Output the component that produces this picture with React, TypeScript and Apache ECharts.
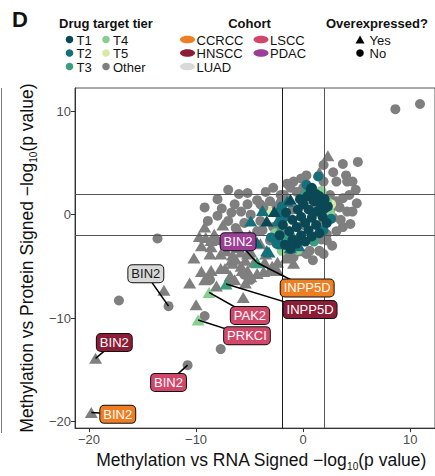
import React, { useEffect, useRef } from "react";
import * as echarts from "echarts";

const FONT = "'Liberation Sans', Arial, Helvetica, sans-serif";

// Drug target tiers and their colours
const tierNames = ["T1", "T2", "T3", "T4", "T5", "Other"];
const tierColors = ["#0b4856", "#15707b", "#3a9d80", "#86cf91", "#d8eba6", "#7f7f7f"];

// Cohorts (label fills)
const cohortNames = ["CCRCC", "HNSCC", "LUAD", "LSCC", "PDAC"];
const cohortColors = ["#ef7d22", "#8b1d36", "#d9d9d9", "#d1476a", "#9b3e98"];

const xTicks = [-20, -10, 0, 10];
const yTicks = [-20, -10, 0, 10];
const cutoffs = [-2, 2];

// Other tier, not overexpressed (circles)
const otherNo: number[][] = [
  [8.6, 10.2], [10.9, 10.7],
  [3.7, 4.9], [5.1, 5.1], [4.0, 3.8], [4.1, 3.2], [4.9, 2.4], [4.1, 0.3], [1.7, -2.4], [1.9, 4.8], [2.8, 4.1], [3.1, 3.2],
  [0.3, 3.8], [1.9, 3.2], [4.6, 3.2], [3.1, 1.3], [4.3, 1.9], [4.6, 0.3], [3.7, -1.2], [2.2, -1.9], [0.6, -3.5], [-0.9, -4.1], [1.9, -3.8],
  [-0.9, 3.2], [0.0, 2.6], [-1.8, 1.9], [-3.1, 1.3], [-4.0, 1.0], [-5.2, 1.0], [-6.4, 1.0], [-7.0, 2.4],
  [-5.2, 2.1], [-4.3, 1.4], [-6.7, 0.2], [-4.9, 0.0], [-3.7, 0.7], [-9.2, 0.7], [-8.0, -0.1], [-8.9, -0.6], [-4.0, -0.6],
  [-4.3, -1.6], [-3.1, -2.5], [-1.5, -3.8], [0.3, -3.8], [1.5, -3.5], [2.2, -2.5], [3.1, -1.6], [2.8, -0.3], [3.4, 0.7],
  [3.7, 1.6], [2.5, 1.9], [0.9, 2.4], [-0.6, 2.2], [-2.1, 1.9],
  [1.0, 0.5], [2.0, 0.0], [1.5, -1.0], [0.5, 1.5], [-1.0, 0.5], [-2.0, -0.5], [-2.5, 0.8], [-1.5, -1.5], [0.0, -1.0],
  [3.5, -0.5], [2.6, 0.6], [1.2, 1.8], [-0.3, -2.5], [-2.8, -1.2], [-7.0, -0.6],
  [-8.0, 1.5], [-6.0, 2.0], [-5.8, 0.3], [-7.6, 0.6], [-3.5, 2.2], [-2.8, 2.6], [-1.5, 3.0], [-0.2, 3.5], [-2.2, 0.0],
  [-5.5, -0.8], [-6.3, -1.3], [-3.8, -1.5], [0.9, -4.4], [2.7, -3.0], [4.4, -0.9], [5.0, 1.1], [-1.2, 2.6],
  [-13.6, -2.3], [-17.2, -8.3], [-8.7, -6.3], [-9.2, -9.8], [-7.7, -13.0], [-6.9, -6.5], [-4.9, -6.3], [-5.5, -5.8],
];

// Other tier, overexpressed (triangles)
const otherYes: number[][] = [
  [2.3, 5.7], [1.5, 4.1], [0.6, 2.6], [-2.1, 1.6],
  [-9.2, -1.2], [-8.6, -2.5], [-8.0, -2.4], [-9.5, -3.0], [-8.7, -3.8], [-7.7, -3.8], [-6.6, -3.9], [-5.8, -3.6],
  [-5.2, -3.8], [-6.6, -4.7], [-8.6, -5.4], [-7.3, -5.2], [-5.8, -5.0], [-5.2, -5.4], [-9.2, -6.3], [-8.1, -6.9],
  [-6.4, -6.3], [-5.4, -6.6], [-4.9, -6.0], [-3.7, -5.5], [-2.9, -5.0], [-2.4, -4.6], [-0.9, -4.7], [-0.6, -3.5],
  [-9.7, -2.1], [-9.1, -2.2], [-8.3, -2.0], [-7.2, -3.5], [-6.7, -4.4], [-9.5, -5.5], [-10.6, -6.6], [-7.7, -5.2],
  [-5.7, -5.4], [-5.4, -4.4], [-4.9, -3.6], [-6.1, -3.2], [-6.3, -4.3], [-10.0, -8.7], [-13.0, -7.3],
  [-5.6, -8.0], [-4.3, -5.7], [-3.1, -5.4], [-2.4, -5.4], [-8.3, -1.9], [-8.6, -3.1],
  [-7.5, -1.0], [-6.0, -1.5], [-5.0, -2.0], [-4.0, -2.8], [-3.5, -3.8], [-1.8, -3.0], [-2.0, -2.0],
  [-7.0, -2.6], [-4.6, -4.6], [-3.6, -4.6], [-1.6, -4.2], [-10.2, -4.2], [-6.8, -5.9],
];

const t5No: number[][] = [[-2.4, -2.5], [1.0, 1.5], [-1.8, -1.0], [2.6, 1.0]];
const t5Yes: number[][] = [[-3.1, 0.3]];
const t4No: number[][] = [[2.2, 1.3], [0.0, -2.5], [2.5, 0.2], [-1.3, -3.0], [-2.6, -1.8], [1.7, 2.3], [-0.5, -3.4], [-2.0, -3.5]];
const t4Yes: number[][] = [];
const t3No: number[][] = [[-1.5, -2.2], [1.0, -2.6], [0.2, 2.0]];
const t3Yes: number[][] = [[-2.2, -1.5], [-1.0, -2.0]];
const t2No: number[][] = [[1.4, 3.7], [-2.5, -2.8], [-3.0, -2.2], [-1.8, -0.3], [2.6, -0.4], [0.3, 2.9], [-2.0, 0.8], [1.9, -1.5]];
const t2Yes: number[][] = [
  [-4.9, -0.6], [-2.4, 0.3], [-1.5, 1.3], [-3.2, -3.6], [-4.3, -2.7], [-2.0, -2.8], [-1.2, -3.2], [-3.8, 0.4], [-0.4, -3.0],
  [-3.4, -3.5], [-2.4, -0.6],
];
const t1No: number[][] = [
  [0.8, 2.6], [0.7, 2.4], [1.2, 2.0], [0.4, 1.8], [1.0, 1.3], [0.0, 1.0], [1.6, 1.0], [-0.5, 0.5], [0.5, 0.5], [1.3, 0.3],
  [2.0, 0.6], [-0.2, -0.2], [0.8, -0.3], [1.8, -0.2], [-1.0, -0.5], [0.2, -0.8], [1.2, -1.0], [-0.6, -1.2], [0.5, -1.5],
  [-1.3, -1.6], [-0.2, -2.0], [0.8, -2.1], [-1.0, -2.4], [-1.7, -2.9], [-0.6, -2.8], [0.2, -2.6], [-1.2, -3.3], [1.5, -1.8],
  [2.2, -0.8], [2.3, 0.8], [-0.3, 1.5], [1.5, 1.8], [-1.6, 0.2], [-1.9, -1.0], [2.0, 1.5], [-2.2, -2.0],
];
const t1Yes: number[][] = [[-3.4, -0.6], [-2.7, 0.3], [-1.2, 1.5]];

// Labelled genes: point, tier, shape, label position and cohort
const labelGenes = ["BIN2", "INPP5D", "INPP5D", "PAK2", "PRKCI", "BIN2", "BIN2", "BIN2", "BIN2"];
const labelCohorts = ["PDAC", "CCRCC", "HNSCC", "LSCC", "LSCC", "LUAD", "HNSCC", "LSCC", "CCRCC"];
const labelTiers = ["T3", "T3", "T3", "T4", "T4", "Other", "Other", "Other", "Other"];
const labelOverexpressed = [true, true, true, true, true, false, true, false, true];
const labelPointX = [-4.33, -4.3, -7.2, -8.79, -9.81, -12.57, -19.38, -10.79, -19.78];
const labelPointY = [-4.62, -4.65, -6.71, -7.52, -10.18, -8.85, -13.89, -14.55, -19.14];
const labelBoxX = [-6.08, 0.37, 0.64, -4.97, -5.25, -14.69, -17.63, -12.57, -17.31];
const labelBoxY = [-2.62, -7.09, -9.18, -9.75, -11.7, -5.71, -12.37, -16.22, -19.31];

const tierData: Record<string, { no: number[][]; yes: number[][] }> = {
  T1: { no: t1No, yes: t1Yes },
  T2: { no: t2No, yes: t2Yes },
  T3: { no: t3No, yes: t3Yes },
  T4: { no: t4No, yes: t4Yes },
  T5: { no: t5No, yes: t5Yes },
  Other: { no: otherNo, yes: otherYes },
};

const minus = (v: number) => String(v).replace("-", "\u2212");

function buildOption(): echarts.EChartsOption {
  const series: any[] = [];
  const drawOrder = ["Other", "T5", "T4", "T3", "T2", "T1"];
  drawOrder.forEach((tier, k) => {
    const color = tierColors[tierNames.indexOf(tier)];
    const no = tierData[tier].no.slice();
    const yes = tierData[tier].yes.slice();
    labelGenes.forEach((_, i) => {
      if (labelTiers[i] !== tier) return;
      (labelOverexpressed[i] ? yes : no).push([labelPointX[i], labelPointY[i]]);
    });
    series.push({
      type: "scatter",
      name: tier + " No",
      data: no,
      symbol: "circle",
      symbolSize: 10,
      itemStyle: { color, opacity: 1 },
      z: 2 + k,
      silent: true,
    });
    series.push({
      type: "scatter",
      name: tier + " Yes",
      data: yes,
      symbol: "triangle",
      symbolSize: [13, 11],
      itemStyle: { color, opacity: 1 },
      z: 2 + k,
      silent: true,
    });
  });

  // significance cut-offs
  series.push({
    type: "scatter",
    data: [],
    z: 10,
    silent: true,
    markLine: {
      silent: true,
      symbol: "none",
      label: { show: false },
      data: [
        { xAxis: cutoffs[0], lineStyle: { color: "#1a1a1a", width: 1, type: "solid" } },
        { xAxis: cutoffs[1], lineStyle: { color: "#555555", width: 1, type: "solid" } },
        { yAxis: cutoffs[0], lineStyle: { color: "#555555", width: 1, type: "solid" } },
        { yAxis: cutoffs[1], lineStyle: { color: "#555555", width: 1, type: "solid" } },
      ],
    },
  });

  // connectors from labelled points to their labels
  series.push({
    type: "lines",
    coordinateSystem: "cartesian2d",
    z: 12,
    silent: true,
    lineStyle: { color: "#000", width: 1.5, opacity: 1 },
    data: labelGenes.map((_, i) => ({
      coords: [
        [labelPointX[i], labelPointY[i]],
        [labelBoxX[i], labelBoxY[i]],
      ],
    })),
  });

  // gene labels as boxed text
  series.push({
    type: "custom",
    z: 20,
    silent: true,
    data: labelGenes.map((_, i) => [labelBoxX[i], labelBoxY[i]]),
    renderItem: (params: any, api: any) => {
      const i = params.dataIndex;
      const c = cohortNames.indexOf(labelCohorts[i]);
      const p = api.coord([api.value(0), api.value(1)]);
      return {
        type: "text",
        x: p[0],
        y: p[1],
        style: {
          text: labelGenes[i],
          fontFamily: FONT,
          fontSize: 13,
          lineHeight: 14,
          fill: labelCohorts[i] === "LUAD" ? "#1a1a1a" : "#ffffff",
          backgroundColor: cohortColors[c],
          borderColor: "#111",
          borderWidth: 1,
          borderRadius: 4,
          padding: [2, 3, 1, 3],
          align: "center",
          verticalAlign: "middle",
        },
      };
    },
  });

  const nameRich = {
    n: { fontFamily: FONT, fontSize: 17.5, lineHeight: 22, color: "#111" },
    s: { fontFamily: FONT, fontSize: 10, lineHeight: 8, verticalAlign: "bottom", color: "#111" },
  };

  // legend
  const legendText = (x: number, y: number, text: string, extra: any = {}) => ({
    type: "text",
    x,
    y,
    style: {
      text,
      fontFamily: FONT,
      fontSize: 13,
      fill: "#111",
      verticalAlign: "middle",
      align: "left",
      ...extra,
    },
  });
  const rows = [39.5, 53, 66.5];
  const graphics: any[] = [
    legendText(12, 19.5, "D", { fontSize: 22, fontWeight: "bold" }),
    legendText(59, 23, "Drug target tier", { fontWeight: "bold" }),
    legendText(249.5, 23, "Cohort", { fontWeight: "bold", align: "center" }),
    legendText(326, 23, "Overexpressed?", { fontWeight: "bold" }),
  ];
  tierNames.forEach((t, i) => {
    const col = i < 3 ? 0 : 1;
    const row = i % 3;
    const dx = col === 0 ? 69.5 : 106;
    graphics.push({
      type: "circle",
      shape: { cx: dx, cy: rows[row], r: 3.8 },
      style: { fill: tierColors[i] },
    });
    graphics.push(legendText(dx + 7, rows[row] + 0.5, t));
  });
  const cohortOrder = ["CCRCC", "HNSCC", "LUAD", "LSCC", "PDAC"];
  cohortOrder.forEach((c, i) => {
    const col = i < 3 ? 0 : 1;
    const row = i % 3;
    const cx = col === 0 ? 187.5 : 261;
    graphics.push({
      type: "ellipse",
      shape: { cx, cy: rows[row], rx: 7.5, ry: 3.8 },
      style: { fill: cohortColors[cohortNames.indexOf(c)] },
    });
    graphics.push(legendText(cx + 9, rows[row] + 0.5, c));
  });
  graphics.push({
    type: "polygon",
    shape: { points: [[355.5, 43.5], [364.5, 43.5], [360, 35.5]] },
    style: { fill: "#000" },
  });
  graphics.push(legendText(369.5, rows[0] + 0.5, "Yes"));
  graphics.push({ type: "circle", shape: { cx: 360, cy: rows[1], r: 3.8 }, style: { fill: "#000" } });
  graphics.push(legendText(369.5, rows[1] + 0.5, "No"));
  // edge of the neighbouring panel
  graphics.push({
    type: "line",
    shape: { x1: 1.5, y1: 88, x2: 1.5, y2: 433 },
    style: { stroke: "#7a7a7a", lineWidth: 1 },
  });

  return {
    animation: false,
    backgroundColor: "#ffffff",
    textStyle: { fontFamily: FONT },
    grid: {
      left: 75,
      top: 88,
      right: -5,
      bottom: 42,
      show: true,
      borderColor: "#555555",
      borderWidth: 1,
      backgroundColor: "transparent",
    },
    xAxis: {
      type: "value",
      min: -21.3,
      max: 12.3,
      splitLine: { show: false },
      axisLine: { show: true, onZero: false, lineStyle: { color: "#333", width: 1 } },
      axisTick: { show: true, length: 4, customValues: xTicks, lineStyle: { color: "#333" } },
      axisLabel: {
        customValues: xTicks,
        formatter: (v: number) => minus(v),
        fontFamily: FONT,
        fontSize: 13,
        color: "#4d4d4d",
        margin: 5,
      },
      name: "{n|Methylation vs RNA Signed \u2212log}{s|10}{n|(p value)}",
      nameLocation: "middle",
      nameGap: 19,
      nameTextStyle: { rich: nameRich, padding: [0, 0, 0, 12] },
    },
    yAxis: {
      type: "value",
      min: -20.64,
      max: 12.25,
      splitLine: { show: false },
      axisLine: { show: true, onZero: false, lineStyle: { color: "#333", width: 1 } },
      axisTick: { show: true, length: 4, customValues: yTicks, lineStyle: { color: "#333" } },
      axisLabel: {
        customValues: yTicks,
        formatter: (v: number) => minus(v),
        fontFamily: FONT,
        fontSize: 13,
        color: "#4d4d4d",
        margin: 4,
      },
      name: "{n|Methylation vs Protein Signed \u2212log}{s|10}{n|(p value)}",
      nameLocation: "middle",
      nameGap: 32,
      nameTextStyle: { rich: nameRich },
    },
    graphic: graphics,
    series,
  } as any;
}

export default function App() {
  const ref = useRef<HTMLDivElement>(null);
  useEffect(() => {
    if (!ref.current) return;
    const chart = echarts.init(ref.current, undefined, { renderer: "svg" });
    chart.setOption(buildOption());
    return () => chart.dispose();
  }, []);
  return (
    <div
      ref={ref}
      style={{ position: "fixed", left: 0, top: 0, width: 435, height: 476, background: "#fff" }}
    />
  );
}
